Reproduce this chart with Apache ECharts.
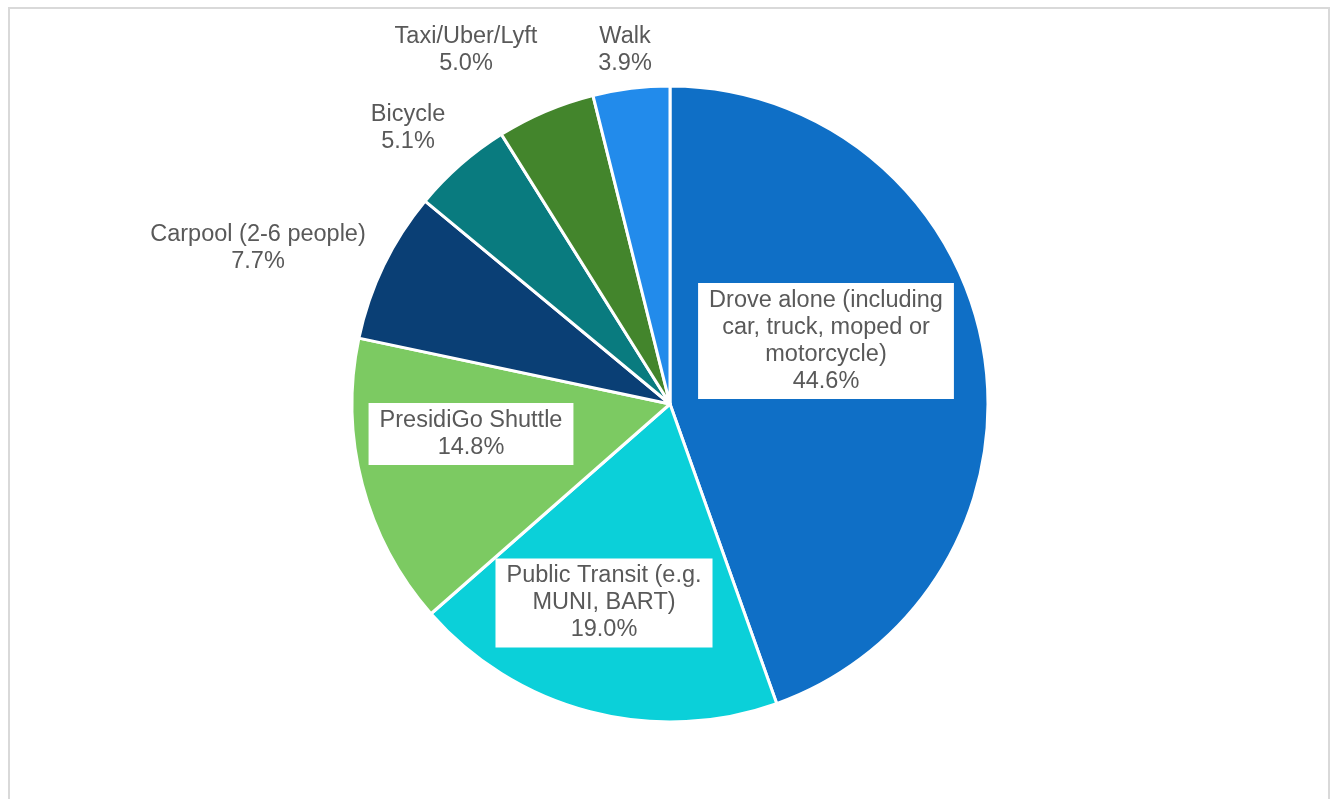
<!DOCTYPE html>
<html>
<head>
<meta charset="utf-8">
<script src="https://cdn.jsdelivr.net/npm/echarts@6/dist/echarts.min.js"></script>
<style>
	html, body { margin: 0; padding: 0; background: #fff; }
	#frame { position: absolute; left: 8px; top: 7px; width: 1322px; height: 800px; border: 2px solid #d9d9d9; box-sizing: border-box; }
	#chartMode { position: absolute; left: 0; top: 0; width: 1333px; height: 799px; }
</style>
</head>
<body>
<div id="frame"></div>
<div id="chartMode"></div>
<script type="text/javascript">
	// commute mode shares (%), clockwise from 12 o'clock
	var categories = ['Drove alone (including car, truck, moped or motorcycle)', 'Public Transit (e.g. MUNI, BART)', 'PresidiGo Shuttle', 'Carpool (2-6 people)', 'Bicycle', 'Taxi/Uber/Lyft', 'Walk'];
	var labelText = ['Drove alone (including\ncar, truck, moped or\nmotorcycle)', 'Public Transit (e.g.\nMUNI, BART)', 'PresidiGo Shuttle', 'Carpool (2-6 people)', 'Bicycle', 'Taxi/Uber/Lyft', 'Walk'];
	var shares = [44.6, 19.0, 14.8, 7.7, 5.1, 5.0, 3.9];

	var colors = ['#0F6FC6', '#0BD0D9', '#7CCA62', '#0A3F75', '#097B7F', '#43852C', '#228BEB'];
	var boxed = [true, true, true, false, false, false, false];
	// label centres in pixels
	var labelPos = [[826, 341], [604, 603], [471, 434], [258, 248], [408, 128], [466, 50], [625, 50]];

	var chartMode = echarts.init(document.getElementById('chartMode'));
	var items = [];
	for (var i = 0; i < shares.length; i++) {
		items.push({
			name: categories[i],
			value: shares[i],
			itemStyle: { color: colors[i] },
			label: boxed[i] ? { backgroundColor: '#fff', padding: [5, 11, 3, 11] } : { backgroundColor: 'transparent', padding: 0 }
		});
	}
	option_mode = {
		animation: false,
		series: [
			{
				type: 'pie',
				center: [670, 404],
				radius: 318,
				startAngle: 90,
				clockwise: true,
				itemStyle: { borderColor: '#fff', borderWidth: 3 },
				label: {
					show: true,
					position: 'inside',
					color: '#595959',
					fontFamily: 'Liberation Sans',
					fontSize: 23.5,
					lineHeight: 27,
					align: 'center',
					verticalAlign: 'middle',
					formatter: function (p) {
						return labelText[p.dataIndex] + '\n' + p.value.toFixed(1) + '%';
					}
				},
				labelLine: { show: false },
				labelLayout: function (params) {
					var p = labelPos[params.dataIndex];
					return { x: p[0], y: p[1], align: 'center', verticalAlign: 'middle' };
				},
				data: items
			}
		]
	};
	chartMode.setOption(option_mode);
</script>
</body>
</html>
